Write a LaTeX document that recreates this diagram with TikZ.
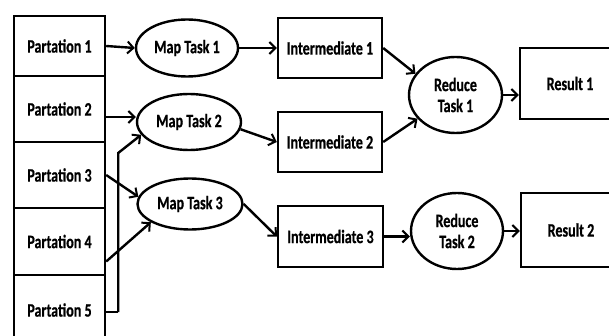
\documentclass[tikz,border=0pt]{standalone}
\usepackage{fontspec}
\newfontfamily\labfont[FakeStretch=0.74,FakeBold=0.6]{Carlito Bold}
\usetikzlibrary{arrows.meta,shapes.geometric,calc}
\begin{document}
\begin{tikzpicture}[x=1pt,y=-1pt,
  every node/.style={font=\labfont\fontsize{19}{21}\selectfont},
  box/.style={draw,line width=2.4pt,rectangle,inner sep=0pt},
  oval/.style={draw,line width=2.4pt,ellipse,inner sep=0pt},
  arr/.style={line width=2.4pt,-{Straight Barb[length=6pt,width=12pt,line width=2pt]}},
  ln/.style={line width=2.4pt}]
\useasboundingbox (0,0) rectangle (609,336);
% partitions
\node[box,minimum width=91pt,minimum height=60pt] (P1) at (59.5,46) {Partation 1};
\node[box,minimum width=91pt,minimum height=66pt] (P2) at (59.5,109) {Partation 2};
\node[box,minimum width=91pt,minimum height=66pt] (P3) at (59.5,175) {Partation 3};
\node[box,minimum width=91pt,minimum height=67pt] (P4) at (59.5,241.5) {Partation 4};
\node[box,minimum width=91pt,minimum height=70pt] (P5) at (59.5,310) {Partation 5};
% map tasks
\node[oval,minimum width=102pt,minimum height=57pt] (M1) at (187,48) {Map Task 1};
\node[oval,minimum width=104pt,minimum height=56pt] (M2) at (189,122) {Map Task 2};
\node[oval,minimum width=105pt,minimum height=51pt] (M3) at (190,204) {Map Task 3};
% intermediates
\node[box,minimum width=104pt,minimum height=60pt] (I1) at (330,48) {Intermediate 1};
\node[box,minimum width=104pt,minimum height=60pt] (I2) at (330,142) {Intermediate 2};
\node[box,minimum width=105pt,minimum height=61pt] (I3) at (330.5,236.5) {Intermediate 3};
% reduce
\node[oval,minimum width=93pt,minimum height=76pt,align=center] (R1) at (455.5,95) {Reduce\\Task 1};
\node[oval,minimum width=92pt,minimum height=76pt,align=center] (R2) at (457,231) {Reduce\\Task 2};
% results
\node[box,minimum width=100pt,minimum height=71pt] (S1) at (570,83.5) {Result 1};
\node[box,minimum width=100pt,minimum height=74pt] (S2) at (571,230) {Result 2};
% connectors
\draw[arr] (P1.east) -- (M1.west);
\draw[arr] ([yshift=-8pt]P2.east) -- ([yshift=-8pt]P2.east -| M2.west);
\draw[arr] (P3.east) -- (M3.172);
\draw[arr] ([yshift=-20pt]P4.east) -- (M3.205);
\coordinate (k1) at ($(P5.east)+(12,2)$);
\coordinate (k2) at (k1 |- 0,153);
\draw[ln] ([yshift=-2pt]P5.east) -- (k1);
\draw[arr] (k1) -- (k2) -- (M2.195);
\draw[arr] (M1.east) -- (I1.west);
\draw[arr] (M2.-8) -- (I2.west);
\draw[arr] (M3.east) -- (I3.west);
\draw[arr] (I1.east) -- (R1.152);
\draw[arr] (I2.east) -- (R1.212);
\draw[arr] (I3.east) -- (I3.east -| R2.west);
\draw[arr] (R1.east) -- (R1.east -| S1.west);
\draw[arr] (R2.east) -- (R2.east -| S2.west);
\end{tikzpicture}
\end{document}
